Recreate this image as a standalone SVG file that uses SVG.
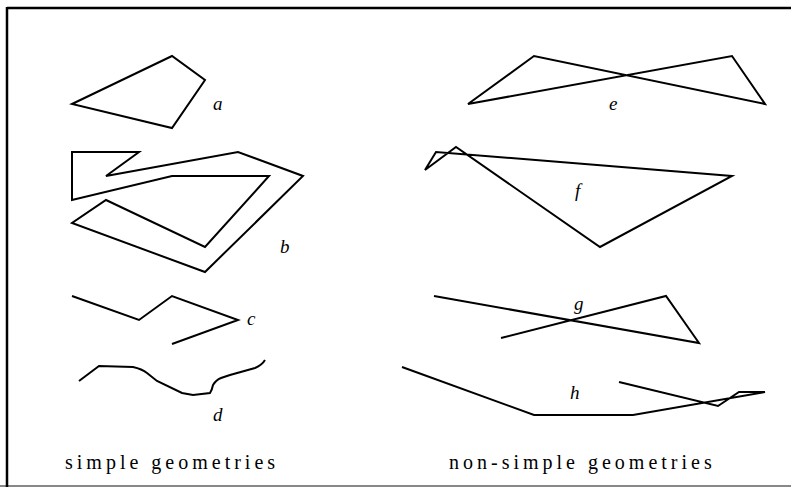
<svg xmlns="http://www.w3.org/2000/svg" width="791" height="487" viewBox="0 0 791 487">
<style>
.g{fill:none;stroke:#000;stroke-width:2;stroke-linejoin:miter;stroke-linecap:butt}
.lbl{font-family:"Liberation Serif","Times New Roman",serif;font-style:italic;font-size:19px;fill:#000}
.cap{font-family:"Liberation Serif","Times New Roman",serif;font-size:20px;fill:#000;letter-spacing:4px}
</style>
<rect x="0" y="0" width="791" height="487" fill="#fff"/>
<g id="frame">
<line x1="0" y1="486" x2="791" y2="486" stroke="#888" stroke-width="2"/>
<line x1="7" y1="8" x2="791" y2="8" stroke="#000" stroke-width="2.5"/>
<line x1="7" y1="7" x2="7" y2="487" stroke="#000" stroke-width="2.5"/>
</g>
<g id="a"><polygon class="g" points="72,104 172,56 205,80 172,128"/><text class="lbl" x="213" y="110">a</text></g>
<g id="b"><polygon class="g" points="72,152 139,152 106,176 238,152 303,176 205,272 72,223 106,200 205,247 269,176 172,176 72,200"/><text class="lbl" x="280" y="253">b</text></g>
<g id="c"><polyline class="g" points="72,296 139,320 172,296 238,320 172,344"/><text class="lbl" x="247" y="325">c</text></g>
<g id="d"><path class="g" d="M79,381 L99,366 L133,367 Q142,369 147,373 Q152,377 157,381 L182,393 L193,395 L210,393 Q212,390 213,385 Q216,380 221,378 L230,375 L255,368 Q262,365 265,360"/><text class="lbl" x="213" y="421">d</text></g>
<g id="e"><polygon class="g" points="468,104 534,56 765,104 732,56"/><text class="lbl" x="609" y="110">e</text></g>
<g id="f"><polygon class="g" points="425,170 436,152 732,176 600,247 456,147"/><text class="lbl" x="575" y="197">f</text></g>
<g id="gg"><polyline class="g" points="434,296 699,343 666,296 501,338"/><text class="lbl" x="574" y="310">g</text></g>
<g id="h"><polyline class="g" points="402,367 534,415 633,415 765,392 739,392 718,406 619,382"/><text class="lbl" x="570" y="399">h</text></g>
<g id="captions">
<text class="cap" x="65" y="469">simple geometries</text>
<text class="cap" x="449" y="469">non-simple geometries</text>
</g>
</svg>
